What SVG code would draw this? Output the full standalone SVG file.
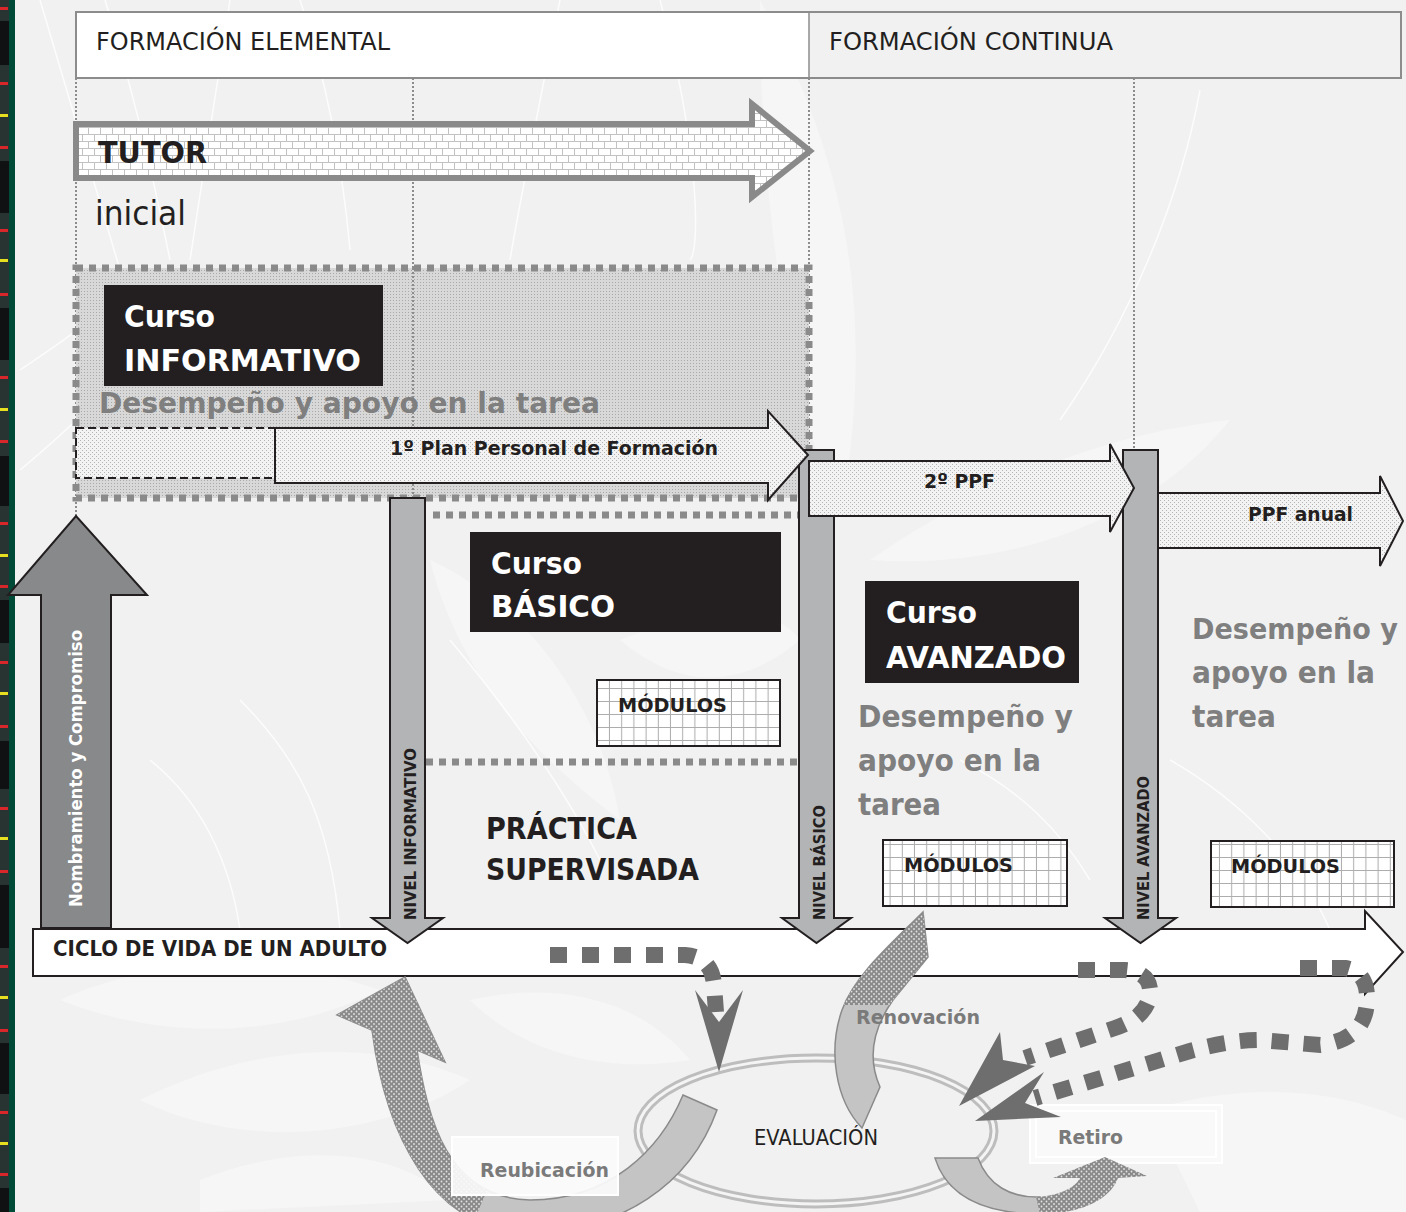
<svg xmlns="http://www.w3.org/2000/svg" width="1406" height="1212" viewBox="0 0 1406 1212">
<defs>
<style>
.b{font-family:"DejaVu Sans",Verdana,sans-serif;font-weight:bold;}
.r{font-family:"DejaVu Sans",Verdana,sans-serif;}
.gr{fill:#7f7f7f;}
.wt{fill:#fff;}
.sq{fill:none;stroke:#8a8a8a;stroke-width:7;stroke-dasharray:7 6;}
.vdot{fill:none;stroke:#8c8c8c;stroke-width:2;stroke-dasharray:2 2;}
.dash{fill:none;stroke:#6e6e6e;stroke-width:16;stroke-dasharray:17 15;}
.shaft{fill:#b2b4b5;stroke:#231f20;stroke-width:2;}
.blk{fill:#231f20;}
.mod{fill:url(#grid);stroke:#231f20;stroke-width:2;}
.ppf{fill:url(#dotsLight);stroke:#231f20;stroke-width:2;}
.head{fill:#6e6e6e;}
.leaf{fill:#f6f6f6;}
.wl{fill:none;stroke:#ffffff;stroke-width:1.5;opacity:0.8;}
</style>
<pattern id="brick" width="24" height="14" patternUnits="userSpaceOnUse" x="76" y="127">
<rect width="24" height="14" fill="#fff"/>
<path d="M0 0.5H24M0 7.5H24M0.5 0V7M12.5 0V7M6.5 7V14M18.5 7V14" stroke="#c2c2c2" stroke-width="1" fill="none"/>
</pattern>
<pattern id="dotsMid" width="3" height="3" patternUnits="userSpaceOnUse">
<rect width="3" height="3" fill="#d8d8d8"/>
<rect width="1" height="1" fill="#a9a9a9"/>
</pattern>
<pattern id="dotsLight" width="4" height="4" patternUnits="userSpaceOnUse">
<rect width="4" height="4" fill="#f3f3f3"/>
<rect width="1" height="1" fill="#b3b3b3"/>
<rect x="2" y="2" width="1" height="1" fill="#b3b3b3"/>
</pattern>
<pattern id="dotsDark" width="5" height="5" patternUnits="userSpaceOnUse">
<rect width="5" height="5" fill="#8a8a8a"/>
<circle cx="1.5" cy="1.5" r="0.9" fill="#e4e4e4"/>
<circle cx="4" cy="4" r="0.9" fill="#e4e4e4"/>
</pattern>
<pattern id="grid" width="12.2" height="13" patternUnits="userSpaceOnUse">
<rect width="12.2" height="13" fill="#fff"/>
<path d="M11.7 0V13M0 12.5H12.2" stroke="#adadad" stroke-width="1"/>
</pattern>
<clipPath id="reuDot"><path d="M300 900 H500 V1160 L470 1230 H300 Z"/></clipPath>
<clipPath id="renDot"><rect x="800" y="880" width="160" height="125"/></clipPath>
</defs>

<!-- background -->
<rect width="1406" height="1212" fill="#f1f1f1"/>
<g id="background-leaves">
<path class="leaf" d="M760 0 C 840 150 880 300 840 520 C 800 420 760 250 760 0 Z"/>
<path class="leaf" d="M870 560 C 1000 470 1130 430 1230 420 C 1150 520 1010 570 870 560 Z"/>
<path class="leaf" d="M60 1000 C 150 960 260 950 380 990 C 280 1040 160 1040 60 1000 Z"/>
<path class="leaf" d="M140 1100 C 260 1040 380 1040 470 1080 C 380 1140 240 1150 140 1100 Z"/>
<path class="leaf" d="M200 1180 C 300 1140 400 1150 450 1200 L200 1212 Z"/>
<path class="leaf" d="M470 1000 C 560 980 640 1000 690 1060 C 600 1075 520 1050 470 1000 Z"/>
<path class="leaf" d="M1150 1110 C 1250 1080 1340 1090 1406 1120 L1406 1212 L1200 1212 Z"/>
<path class="leaf" d="M430 560 C 520 600 600 700 620 820 C 540 760 460 680 430 560 Z"/>
<path class="leaf" d="M620 640 C 720 600 780 610 800 640 C 740 690 680 690 620 640 Z"/>
<path class="wl" d="M40 0 L120 270"/>
<path class="wl" d="M105 0 C 130 80 150 160 170 260"/>
<path class="wl" d="M300 0 C 320 60 340 140 350 250"/>
<path class="wl" d="M230 0 L190 260"/>
<path class="wl" d="M560 0 C 540 100 520 200 510 260"/>
<path class="wl" d="M660 0 C 700 150 700 250 690 260"/>
<path class="wl" d="M1200 90 C 1180 200 1130 320 1060 420"/>
<path class="wl" d="M20 370 C 80 330 120 300 150 270"/>
<path class="wl" d="M20 470 C 80 420 120 380 150 330"/>
<path class="wl" d="M150 760 C 200 800 230 860 240 930"/>
<path class="wl" d="M240 700 C 300 760 330 820 340 930"/>
<path class="wl" d="M450 640 C 500 700 560 780 600 860"/>
<path class="wl" d="M960 760 C 1020 790 1060 830 1090 880"/>
<path class="wl" d="M1170 760 C 1240 800 1300 860 1330 930"/>
</g>

<!-- left decorative strip -->
<g id="side-strip">
<rect x="0" y="0" width="15" height="1212" fill="#004a38"/>
<rect x="0" y="0" width="9" height="1212" fill="#283432"/>
<g fill="#0f1113">
<rect x="0" y="21" width="9" height="44"/><rect x="0" y="161" width="9" height="52"/><rect x="0" y="308" width="9" height="52"/>
<rect x="0" y="456" width="9" height="50"/><rect x="0" y="600" width="9" height="43"/><rect x="0" y="741" width="9" height="48"/>
<rect x="0" y="885" width="9" height="63"/><rect x="0" y="1043" width="9" height="51"/><rect x="0" y="1188" width="9" height="24"/>
</g>
<g fill="#d9262b">
<rect x="0" y="7" width="8" height="3"/><rect x="0" y="82" width="8" height="3"/><rect x="0" y="146" width="8" height="3"/>
<rect x="0" y="229" width="8" height="3"/><rect x="0" y="293" width="8" height="3"/><rect x="0" y="376" width="8" height="3"/>
<rect x="0" y="440" width="8" height="3"/><rect x="0" y="522" width="8" height="3"/><rect x="0" y="585" width="8" height="3"/>
<rect x="0" y="661" width="8" height="3"/><rect x="0" y="725" width="8" height="3"/><rect x="0" y="807" width="8" height="3"/>
<rect x="0" y="870" width="8" height="3"/><rect x="0" y="965" width="8" height="3"/><rect x="0" y="1029" width="8" height="3"/>
<rect x="0" y="1111" width="8" height="3"/><rect x="0" y="1173" width="8" height="3"/>
</g>
<g fill="#e6df1f">
<rect x="0" y="114" width="8" height="3"/><rect x="0" y="259" width="8" height="3"/><rect x="0" y="408" width="8" height="3"/>
<rect x="0" y="554" width="8" height="3"/><rect x="0" y="692" width="8" height="3"/><rect x="0" y="837" width="8" height="3"/>
<rect x="0" y="996" width="8" height="3"/><rect x="0" y="1142" width="8" height="3"/>
</g>
</g>

<!-- header -->
<g id="header">
<rect x="76" y="12" width="733" height="66" fill="#fff"/>
<rect x="76" y="12" width="1325" height="66" fill="none" stroke="#8c8c8c" stroke-width="2"/>
<line x1="809" y1="12" x2="809" y2="78" stroke="#8c8c8c" stroke-width="1.5"/>
<text class="r" x="96" y="50" font-size="25" fill="#231f20" textLength="294" lengthAdjust="spacingAndGlyphs">FORMACIÓN ELEMENTAL</text>
<text class="r" x="829" y="50" font-size="25" fill="#231f20" textLength="284" lengthAdjust="spacingAndGlyphs">FORMACIÓN CONTINUA</text>
</g>

<!-- guide lines -->
<g id="guides">
<line class="vdot" x1="76" y1="78" x2="76" y2="516"/>
<line class="vdot" x1="413" y1="78" x2="413" y2="498"/>
<line class="vdot" x1="809" y1="78" x2="809" y2="450"/>
<line class="vdot" x1="1134" y1="78" x2="1134" y2="450"/>
</g>

<!-- informativo region -->
<g id="informativo-region">
<rect x="76" y="268" width="733" height="230" fill="url(#dotsMid)"/>
<line class="vdot" x1="413" y1="268" x2="413" y2="498"/>
<rect class="sq" x="76" y="268" width="733" height="230"/>
</g>

<g id="tutor">
<path d="M76 124 H752 V104 L810 151 L752 197 V178 H76 Z" fill="url(#brick)" stroke="#8a8a8a" stroke-width="6"/>
<text class="b" x="98" y="163" font-size="31" fill="#231f20" textLength="109" lengthAdjust="spacingAndGlyphs">TUTOR</text>
<text class="r" x="95" y="225" font-size="34" fill="#231f20" textLength="91" lengthAdjust="spacingAndGlyphs">inicial</text>
</g>

<g id="curso-informativo">
<rect class="blk" x="104" y="285" width="279" height="101"/>
<text class="b wt" x="124" y="327" font-size="30" textLength="91" lengthAdjust="spacingAndGlyphs">Curso</text>
<text class="b wt" x="124" y="371" font-size="30" textLength="237" lengthAdjust="spacingAndGlyphs">INFORMATIVO</text>
</g>
<text id="desempeno-1" class="b gr" x="99" y="413" font-size="29" textLength="501" lengthAdjust="spacingAndGlyphs">Desempeño y apoyo en la tarea</text>

<!-- dashed separators -->
<g id="separators">
<line class="sq" x1="433" y1="515" x2="798" y2="515"/>
<line class="sq" x1="426" y1="762" x2="798" y2="762"/>
</g>

<!-- big up arrow -->
<g id="nombramiento">
<path d="M41 928 V595 H8 L76 516 L147 595 H111 V928 Z" fill="#88898b" stroke="#231f20" stroke-width="2"/>
<text class="b wt" font-size="18" transform="translate(82 907) rotate(-90)" textLength="277" lengthAdjust="spacingAndGlyphs">Nombramiento y Compromiso</text>
</g>

<!-- ciclo de vida arrow -->
<g id="ciclo">
<path d="M33 929 H1365 V911 L1403 952 L1365 994 V976 H33 Z" fill="#fff" stroke="#231f20" stroke-width="2"/>
<text class="b" x="53" y="956" font-size="21" fill="#231f20" textLength="334" lengthAdjust="spacingAndGlyphs">CICLO DE VIDA DE UN ADULTO</text>
</g>

<!-- level arrows -->
<g id="nivel-informativo">
<path class="shaft" d="M390 498 H425 V918 H443 L407.5 943 L372 918 H390 Z"/>
<text class="b" font-size="16" fill="#231f20" transform="translate(416 920) rotate(-90)" textLength="172" lengthAdjust="spacingAndGlyphs">NIVEL INFORMATIVO</text>
</g>
<g id="nivel-basico">
<path class="shaft" d="M799 450 H834 V918 H851 L816.5 943 L782 918 H799 Z"/>
<text class="b" font-size="16" fill="#231f20" transform="translate(825 920) rotate(-90)" textLength="115" lengthAdjust="spacingAndGlyphs">NIVEL BÁSICO</text>
</g>
<g id="nivel-avanzado">
<path class="shaft" d="M1123 450 H1158 V918 H1176 L1140.5 943 L1105 918 H1123 Z"/>
<text class="b" font-size="16" fill="#231f20" transform="translate(1149 920) rotate(-90)" textLength="144" lengthAdjust="spacingAndGlyphs">NIVEL AVANZADO</text>
</g>

<!-- PPF arrows -->
<g id="plan-previo">
<rect x="76" y="428" width="199" height="50" fill="url(#dotsLight)" stroke="#231f20" stroke-width="2" stroke-dasharray="8 4"/>
</g>
<g id="ppf-1">
<path class="ppf" d="M275 428 H768 V411 L808 455 L768 500 V483 H275 Z"/>
<text class="b" x="390" y="455" font-size="20" fill="#231f20" textLength="328" lengthAdjust="spacingAndGlyphs">1º Plan Personal de Formación</text>
</g>
<g id="ppf-2">
<path class="ppf" d="M809 461 H1110 V444 L1134 488 L1110 532 V516 H809 Z"/>
<text class="b" x="924" y="488" font-size="20" fill="#231f20" textLength="71" lengthAdjust="spacingAndGlyphs">2º PPF</text>
</g>
<g id="ppf-anual">
<path class="ppf" d="M1158 493 H1380 V476 L1403 521 L1380 566 V548 H1158 Z"/>
<text class="b" x="1248" y="521" font-size="20" fill="#231f20" textLength="105" lengthAdjust="spacingAndGlyphs">PPF anual</text>
</g>

<!-- courses -->
<g id="curso-basico">
<rect class="blk" x="470" y="532" width="311" height="100"/>
<text class="b wt" x="491" y="574" font-size="30" textLength="91" lengthAdjust="spacingAndGlyphs">Curso</text>
<text class="b wt" x="491" y="617" font-size="30" textLength="124" lengthAdjust="spacingAndGlyphs">BÁSICO</text>
</g>
<g id="curso-avanzado">
<rect class="blk" x="865" y="581" width="214" height="102"/>
<text class="b wt" x="886" y="623" font-size="30" textLength="91" lengthAdjust="spacingAndGlyphs">Curso</text>
<text class="b wt" x="886" y="668" font-size="30" textLength="180" lengthAdjust="spacingAndGlyphs">AVANZADO</text>
</g>

<g id="modulos-1">
<rect class="mod" x="597" y="680" width="183" height="66"/>
<text class="b" x="618" y="712" font-size="20" fill="#231f20" textLength="109" lengthAdjust="spacingAndGlyphs">MÓDULOS</text>
</g>
<g id="modulos-2">
<rect class="mod" x="883" y="840" width="184" height="66"/>
<text class="b" x="904" y="872" font-size="20" fill="#231f20" textLength="109" lengthAdjust="spacingAndGlyphs">MÓDULOS</text>
</g>
<g id="modulos-3">
<rect class="mod" x="1211" y="841" width="183" height="66"/>
<text class="b" x="1231" y="873" font-size="20" fill="#231f20" textLength="109" lengthAdjust="spacingAndGlyphs">MÓDULOS</text>
</g>

<g id="desempeno-2">
<text class="b gr" x="858" y="727" font-size="30" textLength="215" lengthAdjust="spacingAndGlyphs">Desempeño y</text>
<text class="b gr" x="858" y="771" font-size="30" textLength="183" lengthAdjust="spacingAndGlyphs">apoyo en la</text>
<text class="b gr" x="858" y="815" font-size="30" textLength="83" lengthAdjust="spacingAndGlyphs">tarea</text>
</g>
<g id="desempeno-3">
<text class="b gr" x="1192" y="639" font-size="28" textLength="206" lengthAdjust="spacingAndGlyphs">Desempeño y</text>
<text class="b gr" x="1192" y="683" font-size="30" textLength="183" lengthAdjust="spacingAndGlyphs">apoyo en la</text>
<text class="b gr" x="1192" y="727" font-size="30" textLength="84" lengthAdjust="spacingAndGlyphs">tarea</text>
</g>

<g id="practica">
<text class="b" x="486" y="839" font-size="30" fill="#231f20" textLength="151" lengthAdjust="spacingAndGlyphs">PRÁCTICA</text>
<text class="b" x="486" y="880" font-size="30" fill="#231f20" textLength="213" lengthAdjust="spacingAndGlyphs">SUPERVISADA</text>
</g>

<!-- evaluation -->
<g id="evaluacion">
<ellipse cx="816" cy="1131" rx="178" ry="73" fill="none" stroke="#bdbdbd" stroke-width="9"/>
<ellipse cx="816" cy="1131" rx="178" ry="73" fill="none" stroke="#f4f4f4" stroke-width="3"/>
<text class="r" x="754" y="1145" font-size="22" fill="#231f20" textLength="124" lengthAdjust="spacingAndGlyphs">EVALUACIÓN</text>
</g>

<g id="retiro-box">
<rect x="1030" y="1105" width="192" height="58" fill="#f9f9f9" stroke="#ffffff" stroke-width="2"/>
<rect x="1036" y="1111" width="180" height="46" fill="none" stroke="#ffffff" stroke-width="2"/>
</g>

<!-- connectors -->
<g id="connectors">
<g id="reubicacion">
<path d="M683 1095 L717 1110 C690 1185 620 1232 530 1232 C430 1232 385 1130 372 1030 L337 1015 L405 977 L445 1062 L417 1050 C428 1120 447 1198 530 1200 C610 1200 660 1150 683 1095 Z" fill="#c4c4c4" stroke="#8a8a8a" stroke-width="1.5"/>
<path clip-path="url(#reuDot)" d="M683 1095 L717 1110 C690 1185 620 1232 530 1232 C430 1232 385 1130 372 1030 L337 1015 L405 977 L445 1062 L417 1050 C428 1120 447 1198 530 1200 C610 1200 660 1150 683 1095 Z" fill="url(#dotsDark)"/>
<rect x="452" y="1137" width="166" height="58" fill="#fbfbfb" fill-opacity="0.92" stroke="#ffffff" stroke-width="2"/>
<text class="b" x="480" y="1177" font-size="20" fill="#7a7a7a" textLength="129" lengthAdjust="spacingAndGlyphs">Reubicación</text>
</g>
<g id="renovacion">
<path d="M862 1128 C835 1100 828 1050 842 1010 C855 975 890 945 923 912 L928 957 L893 1000 C872 1030 868 1060 880 1087 Z" fill="#c4c4c4" stroke="#8a8a8a" stroke-width="1.5"/>
<path clip-path="url(#renDot)" d="M862 1128 C835 1100 828 1050 842 1010 C855 975 890 945 923 912 L928 957 L893 1000 C872 1030 868 1060 880 1087 Z" fill="url(#dotsDark)"/>
<text class="b" x="856" y="1024" font-size="20" fill="#7a7a7a" textLength="124" lengthAdjust="spacingAndGlyphs">Renovación</text>
</g>
<g id="retiro">
<path d="M935 1158 L978 1158 C988 1185 1010 1198 1040 1197 L1042 1214 C990 1214 948 1200 935 1158 Z" fill="#c4c4c4" stroke="#8a8a8a" stroke-width="1.5"/>
<path d="M1036 1197 C1058 1196 1075 1188 1080 1178 L1053 1178 L1105 1157 L1147 1176 L1118 1178 C1110 1200 1080 1214 1040 1214 Z" fill="url(#dotsDark)"/>
<text class="b" x="1058" y="1144" font-size="20" fill="#7a7a7a" textLength="65" lengthAdjust="spacingAndGlyphs">Retiro</text>
</g>
<g id="to-evaluacion">
<path class="dash" d="M550 955 L685 955 Q712 957 714 985 L716 1012"/>
<polygon class="head" points="695,990 719,1072 743,990 719,1022"/>
<path class="dash" d="M1078 970 L1125 970 Q1152 972 1150 995 Q1146 1018 1115 1028 L1025 1058"/>
<polygon class="head" points="1000,1032 959,1106 1035,1066 1003,1060"/>
<path class="dash" d="M1300 968 L1345 968 Q1368 972 1367 1000 Q1366 1040 1320 1045 L1260 1040 Q1230 1040 1190 1051 L1035 1098"/>
<polygon class="head" points="1044,1072 975,1121 1061,1117 1025,1103"/>
</g>
</g>
</svg>
